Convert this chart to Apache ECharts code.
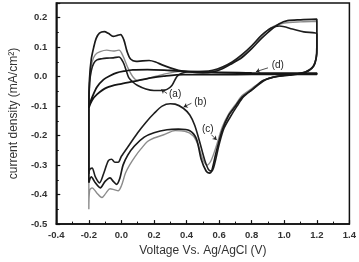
<!DOCTYPE html>
<html>
<head>
<meta charset="utf-8">
<script src="https://cdn.jsdelivr.net/npm/echarts@6/dist/echarts.min.js"></script>
<style>
  html, body { margin: 0; padding: 0; background: #fff; }
  #cv { width: 359px; height: 262px; }
</style>
</head>
<body>
<div id="cv"></div>
<script>
// [voltage (V), current density (mA/cm2)]

// (c) outer dark loop
const loopC = [
  [-0.2,-0.36],[-0.2,-0.2],[-0.2,-0.1],[-0.195,0.0],[-0.185,0.06],[-0.17,0.1],[-0.155,0.13],[-0.135,0.148],
  [-0.105,0.153],[-0.08,0.147],[-0.05,0.137],[-0.025,0.14],[-0.005,0.143],[0.015,0.125],[0.035,0.085],
  [0.056,0.06],[0.09,0.052],[0.13,0.054],[0.17,0.055],[0.21,0.05],[0.25,0.04],[0.3,0.03],[0.35,0.022],
  [0.42,0.016],[0.5,0.013],[0.56,0.016],[0.62,0.027],[0.68,0.045],[0.74,0.065],[0.8,0.095],[0.86,0.13],
  [0.92,0.16],[0.97,0.18],[1.02,0.19],[1.1,0.193],[1.2,0.195],
  [1.2,0.15],[1.2,0.1],[1.195,0.06],[1.18,0.035],[1.15,0.02],[1.1,0.01],[1.03,0.005],[0.95,0.0],
  [0.88,-0.012],[0.8,-0.045],[0.74,-0.07],[0.7,-0.1],[0.66,-0.13],[0.62,-0.18],[0.58,-0.26],[0.555,-0.318],
  [0.54,-0.327],[0.52,-0.32],[0.49,-0.28],[0.46,-0.21],[0.42,-0.183],[0.35,-0.178],[0.28,-0.18],
  [0.2,-0.19],[0.14,-0.205],[0.08,-0.235],[0.04,-0.265],[0.01,-0.3],[-0.01,-0.345],[-0.03,-0.365],
  [-0.05,-0.355],[-0.07,-0.343],[-0.1,-0.355],[-0.13,-0.377],[-0.16,-0.36],[-0.185,-0.34],[-0.2,-0.36]
];

// (c) second cycle, grey
const loopCGrey = [
  [-0.2,-0.45],[-0.2,-0.3],[-0.2,-0.1],[-0.195,0.0],[-0.18,0.05],[-0.16,0.075],[-0.13,0.085],[-0.09,0.09],
  [-0.05,0.087],[-0.015,0.09],[0.01,0.07],[0.04,0.03],[0.07,0.0],[0.1,-0.013],[0.15,-0.008],[0.22,0.003],
  [0.3,0.013],[0.38,0.018],[0.45,0.017],[0.52,0.016],[0.58,0.022],[0.64,0.036],[0.7,0.055],[0.76,0.08],
  [0.82,0.115],[0.88,0.15],[0.94,0.172],[1.0,0.182],[1.1,0.186],[1.2,0.188],
  [1.2,0.14],[1.2,0.09],[1.19,0.05],[1.17,0.03],[1.13,0.016],[1.07,0.009],[1.0,0.004],[0.93,-0.002],
  [0.87,-0.013],[0.8,-0.04],[0.74,-0.065],[0.7,-0.095],[0.66,-0.125],[0.62,-0.17],[0.58,-0.24],
  [0.55,-0.285],[0.525,-0.3],[0.5,-0.28],[0.47,-0.23],[0.44,-0.2],[0.39,-0.185],[0.33,-0.183],
  [0.26,-0.197],[0.2,-0.208],[0.16,-0.22],[0.12,-0.245],[0.085,-0.27],[0.05,-0.3],[0.025,-0.327],
  [0.0,-0.37],[-0.02,-0.387],[-0.045,-0.383],[-0.07,-0.38],[-0.095,-0.395],[-0.12,-0.41],
  [-0.15,-0.395],[-0.18,-0.377],[-0.195,-0.385],[-0.2,-0.45]
];

// (a)/(b) dark loop
const loopAB = [
  [-0.2,-0.33],[-0.2,-0.105],[-0.195,-0.02],[-0.185,0.02],[-0.17,0.045],[-0.15,0.057],[-0.12,0.061],
  [-0.09,0.063],[-0.05,0.064],[-0.015,0.067],[0.01,0.05],[0.03,0.02],[0.045,-0.003],[0.07,-0.018],
  [0.1,-0.03],[0.15,-0.042],[0.2,-0.047],[0.25,-0.047],[0.28,-0.043],[0.31,-0.03],[0.34,0.0],
  [0.37,0.012],[0.42,0.017],[0.5,0.018],[0.56,0.022],[0.62,0.033],[0.68,0.05],[0.74,0.075],[0.8,0.105],
  [0.86,0.14],[0.92,0.165],[0.97,0.172],[1.05,0.162],[1.12,0.152],[1.2,0.145],
  [1.2,0.11],[1.2,0.08],[1.19,0.05],[1.17,0.03],[1.13,0.016],[1.08,0.01],[1.0,0.005],[0.93,-0.002],
  [0.87,-0.013],[0.81,-0.04],[0.75,-0.068],[0.71,-0.1],[0.67,-0.135],[0.63,-0.175],[0.6,-0.23],
  [0.575,-0.29],[0.555,-0.32],[0.535,-0.315],[0.51,-0.28],[0.48,-0.22],[0.45,-0.165],[0.42,-0.13],
  [0.38,-0.107],[0.33,-0.093],[0.3,-0.092],[0.25,-0.1],[0.2,-0.125],[0.15,-0.155],[0.1,-0.19],
  [0.05,-0.23],[0.0,-0.27],[-0.02,-0.29],[-0.04,-0.29],[-0.06,-0.28],[-0.08,-0.285],[-0.11,-0.33],
  [-0.135,-0.36],[-0.16,-0.34],[-0.18,-0.31],[-0.195,-0.315],[-0.2,-0.33]
];

// (d) thin loop
const loopD = [
  [-0.2,-0.105],[-0.19,-0.085],[-0.18,-0.07],[-0.15,-0.035],[-0.11,-0.01],[-0.07,0.003],[-0.03,0.013],
  [0.02,0.019],[0.07,0.023],[0.16,0.024],[0.3,0.021],[0.5,0.016],[0.8,0.013],[1.0,0.012],[1.2,0.012],
  [1.2,0.008],[1.0,0.008],[0.8,0.008],[0.6,0.007],[0.38,0.007],[0.26,0.002],[0.18,-0.004],[0.1,-0.013],
  [0.0,-0.024],[-0.09,-0.037],[-0.15,-0.06],[-0.18,-0.08],[-0.2,-0.105]
];

// curve labels and their arrows (data coords)
const tagNames = ['(a)', '(b)', '(c)', '(d)'];
const tagPos = [[0.33,-0.06],[0.485,-0.087],[0.53,-0.177],[0.96,0.04]];
const arrowFrom = [[0.28,-0.057],[0.43,-0.09],[0.553,-0.197],[0.9,0.03]];
const arrowTo = [[0.245,-0.043],[0.382,-0.103],[0.585,-0.215],[0.826,0.017]];

const xTicks = { min: -0.4, max: 1.4, step: 0.2 };
const yTicks = { min: -0.5, max: 0.25, step: 0.1 };

var chart = echarts.init(document.getElementById('cv'));

var axisCommon = {
  axisLine: { onZero: false, lineStyle: { color: '#111', width: 1.5 } },
  axisTick: { inside: true, length: 4, lineStyle: { color: '#111', width: 1.2 } },
  minorTick: { show: true, splitNumber: 2, length: 2.5, lineStyle: { color: '#111', width: 1 } },
  splitLine: { show: false },
  nameTextStyle: { fontFamily: 'Liberation Sans', fontSize: 12, color: '#333' }
};

function line(data, color, width) {
  return {
    type: 'line', data: data, showSymbol: false, smooth: 0.3, silent: true,
    lineStyle: { color: color, width: width }
  };
}

var dSeries = line(loopD, '#151515', 1.8);
dSeries.markLine = {
  silent: true, symbol: ['none', 'arrow'], symbolSize: 4,
  lineStyle: { color: '#222', width: 0.8, type: 'solid' },
  label: { show: false },
  data: arrowFrom.map(function (p, i) { return [{ coord: p }, { coord: arrowTo[i] }]; })
};
dSeries.markPoint = {
  silent: true, symbol: 'circle', symbolSize: 0,
  label: { show: true, position: 'inside', formatter: '{b}', color: '#222', fontSize: 10, fontFamily: 'Liberation Sans' },
  data: tagNames.map(function (n, i) { return { name: n, coord: tagPos[i] }; })
};

chart.setOption({
  animation: false,
  grid: { left: 48, right: 7, top: 3, bottom: 31, show: true, borderColor: '#111', borderWidth: 1.5 },
  xAxis: Object.assign({}, axisCommon, {
    type: 'value', min: xTicks.min, max: xTicks.max, interval: xTicks.step,
    name: 'Voltage Vs. Ag/AgCl (V)', nameLocation: 'middle', nameGap: 20,
    axisLabel: { margin: 6, fontSize: 9.5, fontWeight: 'bold', color: '#333', fontFamily: 'Liberation Sans',
      formatter: function (v) { return v.toFixed(1); } }
  }),
  yAxis: Object.assign({}, axisCommon, {
    type: 'value', min: yTicks.min, max: yTicks.max, interval: yTicks.step,
    name: 'current density (mA/cm²)', nameLocation: 'middle', nameGap: 30, nameRotate: 90,
    axisLabel: { margin: 9, fontSize: 9.5, fontWeight: 'bold', color: '#333', fontFamily: 'Liberation Sans',
      showMaxLabel: false, formatter: function (v) { return v.toFixed(1); } }
  }),
  series: [
    line(loopCGrey, '#8c8c8c', 1.4),
    line(loopAB, '#1e1e1e', 1.6),
    line(loopC, '#1a1a1a', 1.7),
    dSeries
  ]
});
</script>
</body>
</html>
